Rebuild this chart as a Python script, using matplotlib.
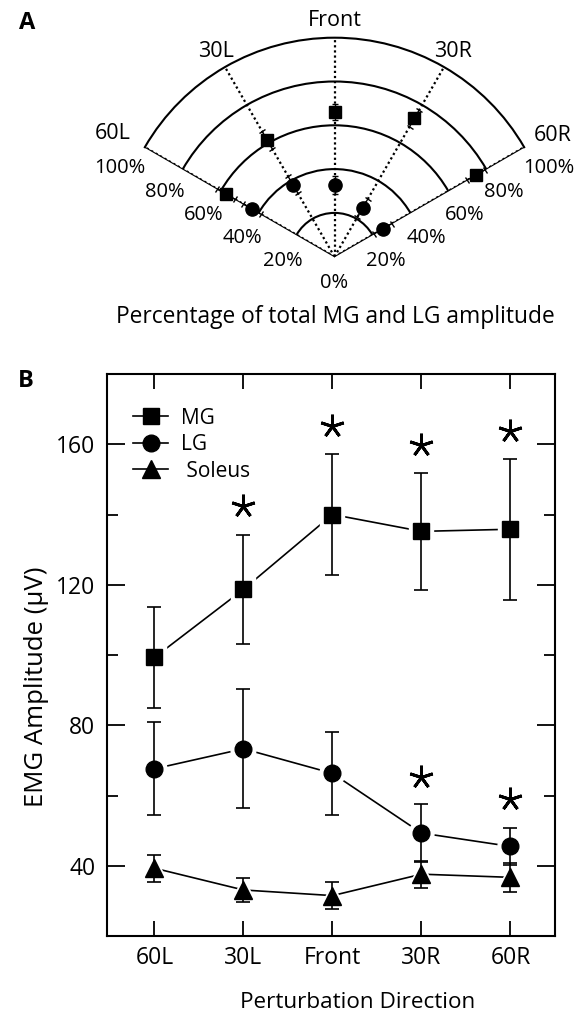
import numpy as np
import matplotlib
matplotlib.use('Agg')
import matplotlib.pyplot as plt

plt.rcParams['font.family'] = ['Open Sans', 'DejaVu Sans']

# ---------------- Panel A data (percent of total MG+LG amplitude) ----------------
directions = ['60L', '30L', 'Front', '30R', '60R']
angles_deg = [-60, -30, 0, 30, 60]
mg_pct = [57.0, 61.5, 66.0, 73.0, 74.5]
mg_pct_err = [4.7, 4.8, 3.8, 4.5, 4.9]
lg_pct = [43.6, 38.0, 32.7, 25.7, 25.5]
lg_pct_err = [4.6, 4.5, 4.2, 4.8, 4.6]
ring_values = [20, 40, 60, 80, 100]
ring_labels = ['20%', '40%', '60%', '80%', '100%']

# ---------------- Panel B data (EMG amplitude, uV) ----------------
mg_amp = [99.3, 118.7, 140.0, 135.2, 135.8]
mg_err = [14.4, 15.6, 17.2, 16.6, 20.0]
lg_amp = [67.6, 73.3, 66.3, 49.3, 45.5]
lg_err = [13.2, 17.0, 11.8, 8.2, 5.3]
sol_amp = [39.3, 33.1, 31.5, 37.6, 36.7]
sol_err = [3.8, 3.3, 3.8, 3.85, 4.2]
mg_sig = [np.nan, 142.5, 165.2, 159.8, 163.8]
lg_sig = [np.nan, np.nan, np.nan, 65.2, 59.1]
y_major = [40, 80, 120, 160]
y_minor = [60, 100, 140]

W, H = 576, 1013
fig = plt.figure(figsize=(W / 100, H / 100), dpi=100)

# ================= Panel A =================
# wedge: apex at (334.5, 256.7) px, radius 219 px; polar axes box is square
cx, cy, R = 334.5, 256.7, 219.0
half_w = R * np.sin(np.deg2rad(60))
side = 2 * half_w
pad_v = (side - R) / 2
left_px = cx - half_w
bottom_px = cy + pad_v
axA = fig.add_axes([left_px / W, 1 - bottom_px / H, side / W, side / H],
                   projection='polar')
axA.set_theta_zero_location('N')
axA.set_theta_direction(-1)
axA.set_thetamin(-60)
axA.set_thetamax(60)
axA.set_rlim(0, 100)
axA.set_thetagrids(angles_deg, labels=[])
axA.set_rgrids(ring_values[:-1], labels=[])
axA.xaxis.grid(True, color='k', linestyle=(0, (1, 1.3)), linewidth=1.6)
axA.yaxis.grid(True, color='k', linestyle='-', linewidth=1.5)
axA.spines['polar'].set_linewidth(1.5)
axA.spines['start'].set_visible(False)
axA.spines['end'].set_visible(False)
axA.tick_params(length=0)
axA.patch.set_alpha(0)

th = np.deg2rad(angles_deg)
axA.errorbar(th, mg_pct, yerr=mg_pct_err, fmt='s', color='k', ms=9,
             elinewidth=1.0, capsize=2.5, capthick=1.0, zorder=5, clip_on=False)
axA.errorbar(th, lg_pct, yerr=lg_pct_err, fmt='o', color='k', ms=9.5,
             elinewidth=1.0, capsize=2.5, capthick=1.0, zorder=5, clip_on=False)

# direction labels
dir_label_pos = {'60L': (-61, 116), '30L': (-30, 108), 'Front': (0, 107.8),
                 '30R': (30, 108), '60R': (61, 114)}
for name in directions:
    a, r = dir_label_pos[name]
    axA.text(np.deg2rad(a), r, name, ha='center', va='center', fontsize=15.5)

# ring labels (left and right)
ring_pos = {'20%': (95, 23.5), '40%': (78.7, 43), '60%': (72.3, 62.5),
            '80%': (69, 83), '100%': (67.5, 106)}
for lab in ring_labels:
    a, r = ring_pos[lab]
    axA.text(np.deg2rad(-a), r, lab, ha='center', va='center', fontsize=14.5)
    axA.text(np.deg2rad(a), r, lab, ha='center', va='center', fontsize=14.5)
axA.text(np.pi, 12.2, '0%', ha='center', va='center', fontsize=14.5)

fig.text(335 / W, 1 - 323.3 / H, 'Percentage of total MG and LG amplitude',
         ha='center', va='baseline', fontsize=16.4)
fig.text(26.7 / W, 1 - 23.3 / H, 'A', ha='center', va='center',
         fontsize=17, fontweight='bold')
fig.text(25.5 / W, 1 - 381 / H, 'B', ha='center', va='center',
         fontsize=17, fontweight='bold')

# ================= Panel B =================
axB = fig.add_axes([107.3 / W, 1 - 936 / H, (555 - 107.3) / W, (936 - 374) / H])
x = np.arange(len(directions))
series = [
    (mg_amp, mg_err, 's', 11, 'MG'),
    (lg_amp, lg_err, 'o', 12, 'LG'),
    (sol_amp, sol_err, '^', 13, ' Soleus'),
]
for vals, errs, m, ms, lab in series:
    axB.plot(x, vals, '-', color='k', lw=1.2, marker=m, ms=ms, label=lab, zorder=2)
    axB.plot(x, vals, ls='none', marker=m, ms=ms + 6, color='white', zorder=3)
    axB.errorbar(x, vals, yerr=errs, fmt='none', ecolor='k', elinewidth=1.2,
                 capsize=4.8, capthick=1.2, zorder=4)
    axB.plot(x, vals, ls='none', marker=m, ms=ms, color='k', zorder=5)

axB.plot(x, mg_sig, ls='none', marker=(5, 2, 0), ms=17, mew=2.1, color='k')
axB.plot(x, lg_sig, ls='none', marker=(5, 2, 0), ms=17, mew=2.1, color='k')

axB.set_xlim(-0.53, 4.5)
axB.set_ylim(20, 180)
axB.set_xticks(x, directions)
axB.set_yticks(y_major)
axB.set_yticks(y_minor, minor=True)
axB.tick_params(axis='both', which='both', direction='in', top=True, right=True,
                width=1.3, labelsize=16.5)
axB.tick_params(axis='x', length=11, pad=7.5)
axB.tick_params(axis='y', which='major', length=13, pad=8.5)
axB.tick_params(axis='y', which='minor', length=8)
for sp in axB.spines.values():
    sp.set_linewidth(1.5)

axB.set_xlabel('Perturbation Direction', fontsize=16.2)
axB.xaxis.set_label_coords(0.559, -0.1)
axB.set_ylabel('EMG Amplitude (\u03bcV)', fontsize=18.5)
axB.yaxis.set_label_coords(-0.13, 0.443)

axB.legend(loc='upper left', bbox_to_anchor=(0.057, 0.94), frameon=False,
           handlelength=1.7, handletextpad=0.6, labelspacing=0.26,
           borderaxespad=0, borderpad=0, fontsize=15, numpoints=1)

fig.savefig('out.png', dpi=100)
